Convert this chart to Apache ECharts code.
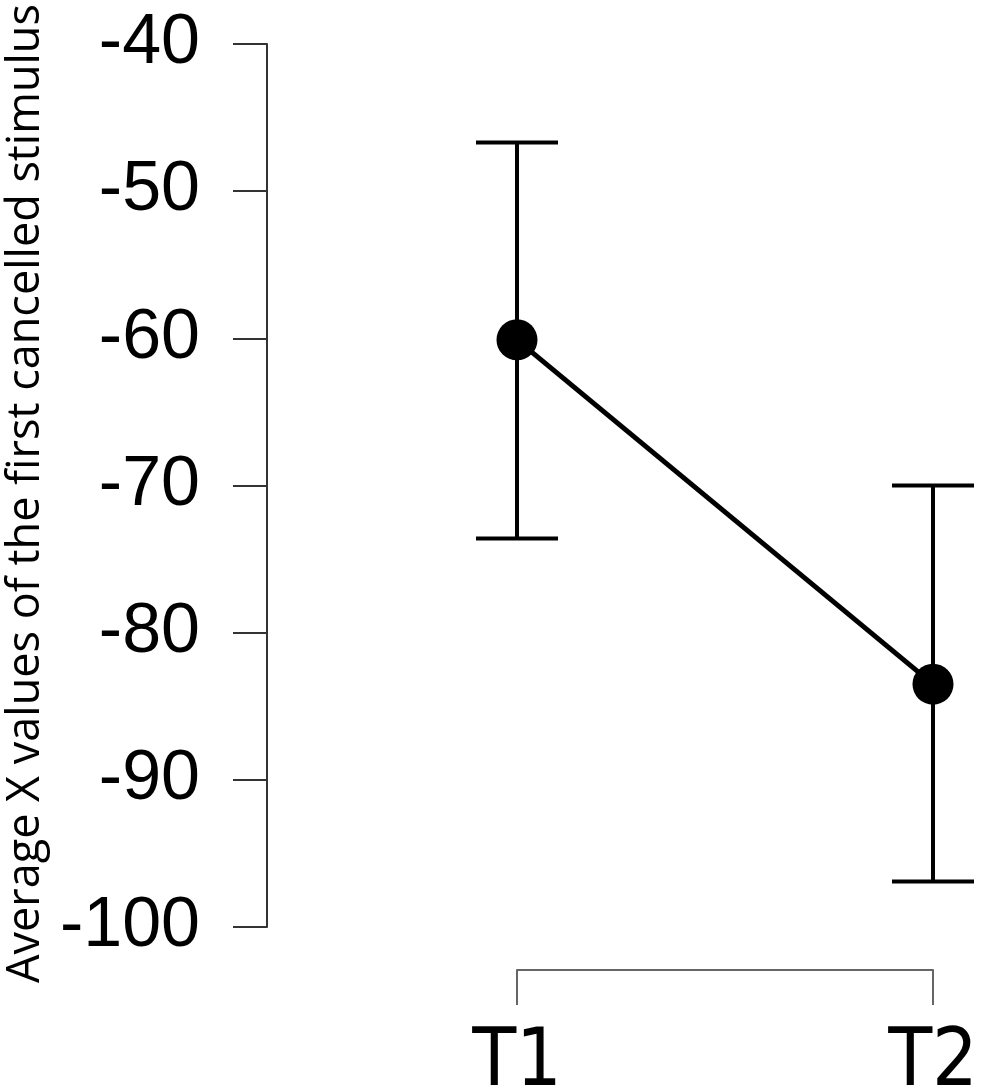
<!DOCTYPE html>
<html>
<head>
<meta charset="utf-8">
<script src="https://cdn.jsdelivr.net/npm/echarts@6/dist/echarts.min.js"></script>
<style>html,body{margin:0;padding:0;background:#fff;}#c{width:989px;height:1092px;}</style>
</head>
<body>
<div id="c"></div>
<script>
var categories = ['T1', 'T2'];
var means = [-60.1, -83.5];
var upper = [-46.7, -70.0];
var lower = [-73.6, -96.9];
var yTicks = [-100, -90, -80, -70, -60, -50, -40];
var yName = 'Average X values of the first cancelled stimulus';

var chart = echarts.init(document.getElementById('c'), null, {renderer: 'canvas'});
var lineData = categories.map(function (c, i) { return [i + 1, means[i]]; });
var errData = categories.map(function (c, i) { return [i + 1, lower[i], upper[i]]; });

chart.setOption({
  animation: false,
  backgroundColor: '#fff',
  grid: {left: 517, right: 56, top: 44, bottom: 165, containLabel: false, outerBoundsMode: 'none'},
  xAxis: {
    type: 'value', min: 1, max: 2, interval: 1, offset: 43,
    splitLine: {show: false},
    axisLine: {show: true, lineStyle: {color: '#666', width: 2}},
    axisTick: {show: true, length: 35, lineStyle: {color: '#666', width: 2}},
    axisLabel: {
      margin: 54, fontSize: 80, fontFamily: '"DejaVu Sans Condensed", "DejaVu Sans"', color: '#000',
      formatter: function (v) { return categories[Math.round(v) - 1] || ''; }
    }
  },
  yAxis: {
    type: 'value', min: yTicks[0], max: yTicks[yTicks.length - 1], interval: 10, offset: 250,
    splitLine: {show: false},
    axisLine: {show: true, lineStyle: {color: '#333', width: 2}},
    axisTick: {show: true, length: 34, lineStyle: {color: '#333', width: 2}},
    axisLabel: {margin: 67, fontSize: 70, fontFamily: 'Liberation Sans', color: '#000'},
    name: yName, nameLocation: 'middle', nameGap: 218, nameRotate: 90,
    nameTextStyle: {fontSize: 45, fontFamily: 'Open Sans', color: '#000', padding: [0, 16, 0, 0]}
  },
  series: [
    {
      type: 'custom', clip: false, z: 2,
      data: errData,
      renderItem: function (params, api) {
        var x = api.value(0);
        var lo = api.coord([x, api.value(1)]);
        var hi = api.coord([x, api.value(2)]);
        var hw = 41;
        var st = {stroke: '#000', lineWidth: 4};
        return {type: 'group', children: [
          {type: 'line', shape: {x1: lo[0], y1: lo[1], x2: hi[0], y2: hi[1]}, style: st},
          {type: 'line', shape: {x1: lo[0] - hw, y1: lo[1], x2: lo[0] + hw, y2: lo[1]}, style: st},
          {type: 'line', shape: {x1: hi[0] - hw, y1: hi[1], x2: hi[0] + hw, y2: hi[1]}, style: st}
        ]};
      }
    },
    {
      type: 'line', data: lineData, clip: false, z: 3,
      symbol: 'circle', symbolSize: 41,
      lineStyle: {color: '#000', width: 5},
      itemStyle: {color: '#000'}
    }
  ]
});
</script>
</body>
</html>
